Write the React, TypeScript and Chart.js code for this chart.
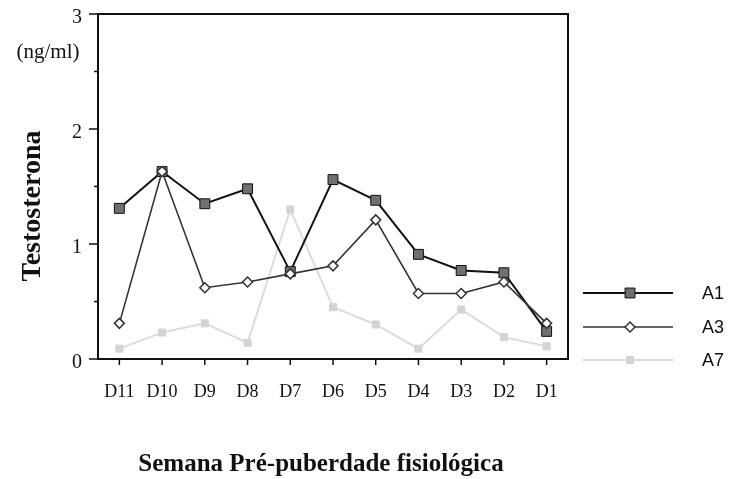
import React, { useEffect, useRef } from "react";
import { Chart, registerables } from "chart.js";

Chart.register(...registerables);

const categories = ["D11", "D10", "D9", "D8", "D7", "D6", "D5", "D4", "D3", "D2", "D1"];
const a1Values = [1.31, 1.63, 1.35, 1.48, 0.76, 1.56, 1.38, 0.91, 0.77, 0.75, 0.24];
const a3Values = [0.31, 1.63, 0.62, 0.67, 0.74, 0.81, 1.21, 0.57, 0.57, 0.67, 0.31];
const a7Values = [0.09, 0.23, 0.31, 0.14, 1.3, 0.45, 0.3, 0.09, 0.43, 0.19, 0.11];
const yTickLabels = ["0", "1", "2", "3"];
const seriesNames = ["A1", "A3", "A7"];
const yUnit = "(ng/ml)";
const yTitle = "Testosterona";
const xTitle = "Semana Pré-puberdade fisiológica";

const SERIF = '"Liberation Serif", "Times New Roman", serif';
const SANS = '"Liberation Sans", Arial, sans-serif';

const styles = [
  { line: "#111111", width: 2, point: "rect", radius: 7, fill: "#707070", border: "#111111", bw: 1 },
  { line: "#333333", width: 1.6, point: "rectRot", radius: 5, fill: "#ffffff", border: "#333333", bw: 1.5 },
  { line: "#dcdcdc", width: 2, point: "rect", radius: 5, fill: "#d4d4d4", border: "#d4d4d4", bw: 1 },
];

const decorPlugin = {
  id: "decor",
  afterDraw(chart: any) {
    const { ctx, chartArea: a, scales } = chart;
    ctx.save();
    ctx.strokeStyle = "#111";
    ctx.lineWidth = 2;
    ctx.strokeRect(a.left, a.top, a.right - a.left, a.bottom - a.top);
    ctx.lineWidth = 1.5;
    for (let v = 0; v <= 3.001; v += 0.5) {
      const y = scales.y.getPixelForValue(v);
      const len = Math.abs(v - Math.round(v)) < 0.01 ? 9 : 4;
      ctx.beginPath();
      ctx.moveTo(a.left - len, y);
      ctx.lineTo(a.left, y);
      ctx.stroke();
    }
    categories.forEach((_, i) => {
      const x = scales.x.getPixelForValue(i);
      ctx.beginPath();
      ctx.moveTo(x, a.bottom);
      ctx.lineTo(x, a.bottom + 6);
      ctx.stroke();
    });
    ctx.fillStyle = "#111";
    ctx.textAlign = "center";
    ctx.textBaseline = "middle";
    ctx.font = `21px ${SERIF}`;
    ctx.fillText(yUnit, 48, 52);
    ctx.save();
    ctx.translate(33, 206);
    ctx.rotate(-Math.PI / 2);
    ctx.font = `bold 28px ${SERIF}`;
    ctx.fillText(yTitle, 0, 0);
    ctx.restore();
    ctx.font = `bold 25px ${SERIF}`;
    ctx.fillText(xTitle, 321, 465);

    // legend
    const rows = [293, 327, 360];
    seriesNames.forEach((name, i) => {
      const s = styles[i];
      const y = rows[i];
      ctx.strokeStyle = s.line;
      ctx.lineWidth = s.width;
      ctx.beginPath();
      ctx.moveTo(583, y);
      ctx.lineTo(673, y);
      ctx.stroke();
      ctx.fillStyle = s.fill;
      ctx.strokeStyle = s.border;
      ctx.lineWidth = s.bw;
      const r = s.radius * Math.SQRT1_2;
      ctx.beginPath();
      if (s.point === "rectRot") {
        ctx.moveTo(630, y - s.radius);
        ctx.lineTo(630 + s.radius, y);
        ctx.lineTo(630, y + s.radius);
        ctx.lineTo(630 - s.radius, y);
        ctx.closePath();
      } else {
        ctx.rect(630 - r, y - r, 2 * r, 2 * r);
      }
      ctx.fill();
      ctx.stroke();
      ctx.fillStyle = "#111";
      ctx.textAlign = "left";
      ctx.font = `18px ${SANS}`;
      ctx.fillText(name, 702, y + 1);
    });
    ctx.restore();
  },
};

export default function App() {
  const ref = useRef<HTMLCanvasElement>(null);
  useEffect(() => {
    if (!ref.current) return;
    const mk = (label: string, data: number[], s: any) => ({
      label,
      data,
      borderColor: s.line,
      borderWidth: s.width,
      pointStyle: s.point,
      pointRadius: s.radius,
      pointBackgroundColor: s.fill,
      pointBorderColor: s.border,
      pointBorderWidth: s.bw,
      tension: 0,
      fill: false,
      clip: false,
    });
    const chart = new Chart(ref.current, {
      type: "line",
      data: {
        labels: categories,
        datasets: [
          mk(seriesNames[1], a3Values, styles[1]),
          mk(seriesNames[0], a1Values, styles[0]),
          mk(seriesNames[2], a7Values, styles[2]),
        ],
      },
      options: {
        animation: false,
        responsive: true,
        maintainAspectRatio: false,
        layout: { padding: { left: 0, top: 14, right: 164, bottom: 0 } },
        plugins: { legend: { display: false }, tooltip: { enabled: false } },
        scales: {
          x: {
            offset: true,
            grid: { display: false },
            border: { display: false },
            ticks: {
              autoSkip: false,
              maxRotation: 0,
              padding: 14,
              color: "#111",
              font: { family: SERIF, size: 18 },
            },
            afterFit: (s: any) => {
              s.height = 120;
              s.paddingLeft = 0;
              s.paddingRight = 0;
            },
          },
          y: {
            min: 0,
            max: 3,
            grid: { display: false, drawTicks: false },
            border: { display: false },
            ticks: {
              stepSize: 0.5,
              padding: 16,
              labelOffset: 4,
              color: "#111",
              font: { family: SERIF, size: 20 },
              callback: (v: any) => {
                const n = Number(v);
                return Math.abs(n - Math.round(n)) < 0.01 ? yTickLabels[Math.round(n)] : "";
              },
            },
            afterFit: (s: any) => {
              s.width = 98;
              s.paddingTop = 0;
              s.paddingBottom = 0;
            },
          },
        },
      },
      plugins: [decorPlugin],
    });
    return () => chart.destroy();
  }, []);
  return (
    <div style={{ position: "fixed", left: 0, top: 0, width: 732, height: 479, background: "#fff" }}>
      <canvas ref={ref} />
    </div>
  );
}
